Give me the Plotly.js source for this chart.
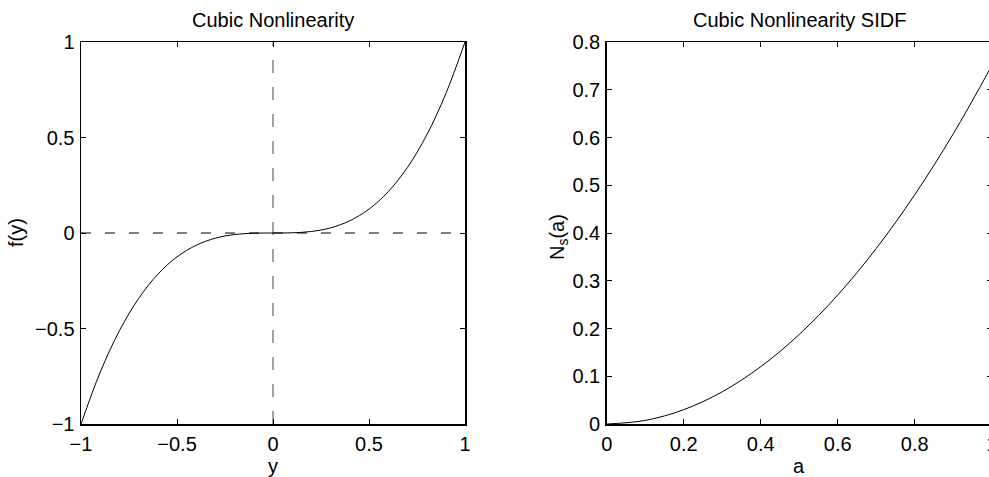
<!DOCTYPE html>
<html>
<head>
<meta charset="utf-8">
<script src="https://cdn.plot.ly/plotly-3.0.1.min.js"></script>
<style>
  html, body { margin: 0; padding: 0; overflow: hidden; background: #fff; }
  #chart { width: 1000px; height: 477px; }
</style>
</head>
<body>
<div id="chart"></div>
<script>
// Cubic nonlinearity f(y) = y^3, sampled values
const yInput = [-1, -0.9, -0.8, -0.7, -0.6, -0.5, -0.4, -0.3, -0.2, -0.1, 0,
                0.1, 0.2, 0.3, 0.4, 0.5, 0.6, 0.7, 0.8, 0.9, 1];
const fOutput = [-1, -0.729, -0.512, -0.343, -0.216, -0.125, -0.064, -0.027, -0.008, -0.001, 0,
                 0.001, 0.008, 0.027, 0.064, 0.125, 0.216, 0.343, 0.512, 0.729, 1];

// Sinusoidal input describing function of the cubic, N_s(a)
const amplitude = [0, 0.1, 0.2, 0.3, 0.4, 0.5, 0.6, 0.7, 0.8, 0.9, 1];
const sidfGain = [0, 0.0075, 0.03, 0.0675, 0.12, 0.1875, 0.27, 0.3675, 0.48, 0.6075, 0.75];

// Reference axes through the origin of the left panel
const refSpan = [-1, 1];
const refZero = [0, 0];

// Tick values and labels
const leftTicks = [-1, -0.5, 0, 0.5, 1];
const leftTickText = ['\u22121', '\u22120.5', '0', '0.5', '1'];
const rightXTicks = [0, 0.2, 0.4, 0.6, 0.8, 1];
const rightXTickText = ['0', '0.2', '0.4', '0.6', '0.8', '1'];
const rightYTicks = [0, 0.1, 0.2, 0.3, 0.4, 0.5, 0.6, 0.7, 0.8];
const rightYTickText = ['0', '0.1', '0.2', '0.3', '0.4', '0.5', '0.6', '0.7', '0.8'];

const FONT = 'Liberation Sans, Arial, Helvetica, sans-serif';
const FS = 20;

const traces = [
  { x: refSpan, y: refZero, xaxis: 'x', yaxis: 'y', mode: 'lines',
    line: { color: '#000', width: 1.2, dash: '10px,14px' }, hoverinfo: 'skip' },
  { x: refZero, y: refSpan, xaxis: 'x', yaxis: 'y', mode: 'lines',
    line: { color: '#444', width: 1, dash: '13px,14px' }, hoverinfo: 'skip' },
  { x: yInput, y: fOutput, xaxis: 'x', yaxis: 'y', mode: 'lines',
    line: { color: '#000', width: 1, shape: 'spline' } },
  { x: amplitude, y: sidfGain, xaxis: 'x2', yaxis: 'y2', mode: 'lines',
    line: { color: '#000', width: 1, shape: 'spline' } }
];

function axisBase(extra) {
  return Object.assign({
    showgrid: false, zeroline: false, showline: true, linecolor: '#000', linewidth: 1.5,
    mirror: 'allticks', ticks: 'inside', ticklen: 5, tickwidth: 1, tickcolor: '#000',
    tickmode: 'array', tickfont: { family: FONT, size: FS, color: '#000' },
    fixedrange: true
  }, extra);
}

const layout = {
  width: 1000, height: 477,
  margin: { l: 0, r: 0, t: 42, b: 53 },
  paper_bgcolor: '#fff', plot_bgcolor: '#fff',
  showlegend: false,
  font: { family: FONT, size: FS, color: '#000' },
  xaxis: axisBase({ domain: [0.081, 0.465], range: [-1, 1], anchor: 'y',
                    tickvals: leftTicks, ticktext: leftTickText, ticklabelstandoff: 1 }),
  yaxis: axisBase({ domain: [0, 1], range: [-1, 1], anchor: 'x',
                    tickvals: leftTicks, ticktext: leftTickText, ticklabelstandoff: 1 }),
  xaxis2: axisBase({ domain: [0.6067, 0.9917], range: [0, 1], anchor: 'y2',
                     tickvals: rightXTicks, ticktext: rightXTickText, ticklabelstandoff: 1 }),
  yaxis2: axisBase({ domain: [0, 1], range: [0, 0.8], anchor: 'x2',
                     tickvals: rightYTicks, ticktext: rightYTickText, ticklabelstandoff: 1 }),
  annotations: [
    { text: 'Cubic Nonlinearity', xref: 'paper', yref: 'paper', x: 0.273, y: 1,
      yshift: 22, xanchor: 'center', yanchor: 'middle', showarrow: false },
    { text: 'Cubic Nonlinearity SIDF', xref: 'paper', yref: 'paper', x: 0.7992, y: 1,
      yshift: 22, xanchor: 'center', yanchor: 'middle', showarrow: false },
    { text: 'y', xref: 'paper', yref: 'paper', x: 0.273, y: 0,
      yshift: -42, xanchor: 'center', yanchor: 'middle', showarrow: false },
    { text: 'a', xref: 'paper', yref: 'paper', x: 0.7992, y: 0,
      yshift: -42, xanchor: 'center', yanchor: 'middle', showarrow: false },
    { text: 'f(y)', xref: 'paper', yref: 'paper', x: 0.016, y: 0.5,
      xanchor: 'center', yanchor: 'middle', textangle: -90, showarrow: false },
    { text: 'N<sub>s</sub>(a)', xref: 'paper', yref: 'paper', x: 0.558, y: 0.5,
      yshift: -4, xanchor: 'center', yanchor: 'middle', textangle: -90, showarrow: false }
  ]
};

Plotly.newPlot('chart', traces, layout, { staticPlot: true, displayModeBar: false });
</script>
</body>
</html>
